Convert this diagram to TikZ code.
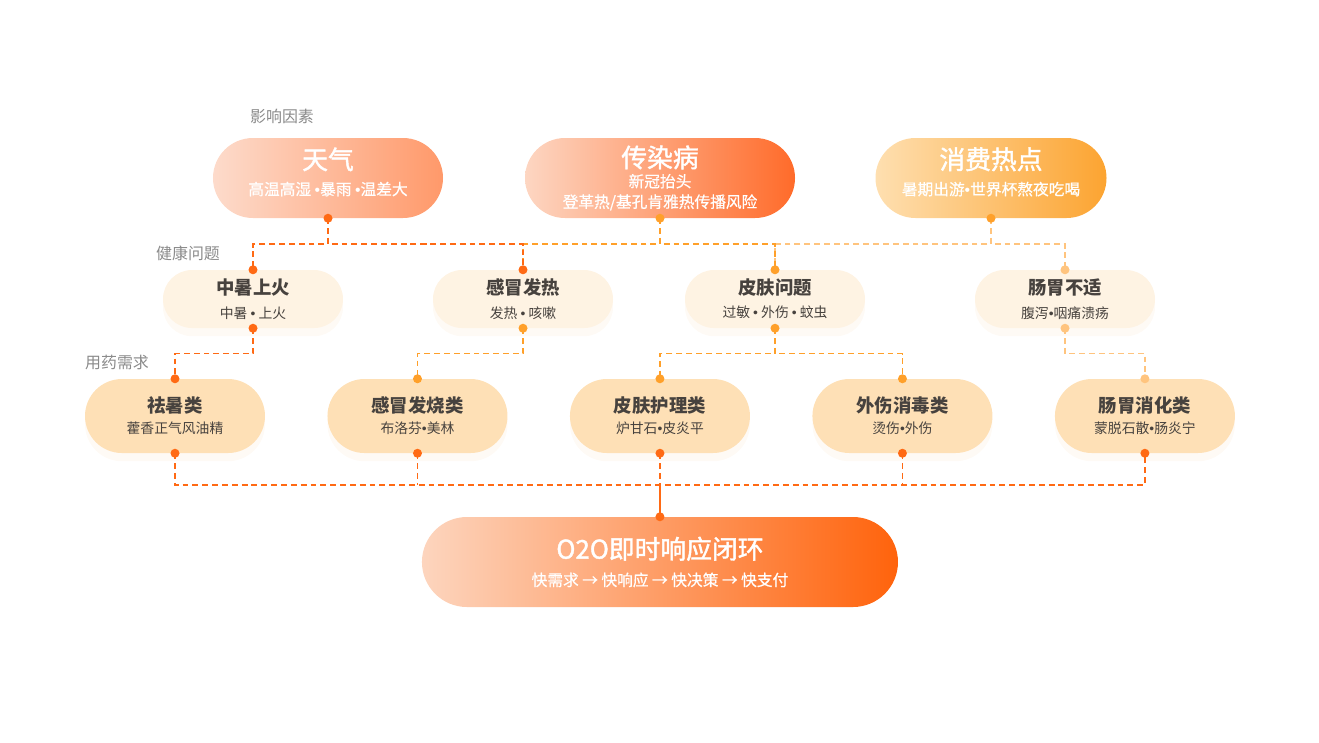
\documentclass[tikz,border=0pt]{standalone}
\usepackage{fontspec}
\newfontfamily\cjk{Noto Sans CJK SC}
\newfontfamily\cjkm{Noto Sans CJK SC}[FakeBold=0.6]
\newfontfamily\cjkt{Noto Sans CJK SC}[FakeBold=1.6]
\newfontfamily\latinf{Liberation Sans}
\usetikzlibrary{positioning,calc,shapes.misc,shadows}

\definecolor{hotred}{HTML}{FF6A14}
\definecolor{midorange}{HTML}{FFA02A}
\definecolor{paleamber}{HTML}{FFC47E}
\definecolor{creamfill}{HTML}{FEF3E3}
\definecolor{peachfill}{HTML}{FEE0B6}
\definecolor{glowfill}{HTML}{FEFAF5}
\definecolor{darktext}{HTML}{47423E}
\definecolor{graytext}{HTML}{8A8A8A}
\definecolor{weatherL}{HTML}{FDDBCB}
\definecolor{weatherR}{HTML}{FF996A}
\definecolor{plagueL}{HTML}{FDD6C2}
\definecolor{plagueR}{HTML}{FF6B2A}
\definecolor{spendL}{HTML}{FEDFB0}
\definecolor{spendR}{HTML}{FCA431}
\definecolor{loopL}{HTML}{FDD5BE}
\definecolor{loopR}{HTML}{FF630C}

\newcommand\bigttl{\cjkt\fontsize{22}{24}\selectfont}
\newcommand\bigsub{\cjkm\fontsize{13.4}{17}\selectfont}
\newcommand\midttl{\cjk\fontsize{15.7}{18}\selectfont\bfseries}
\newcommand\midsub{\cjk\fontsize{11.8}{14}\selectfont}
\newcommand\sep{{\latinf •}}

\tikzset{
pill/.style={rounded rectangle,inner sep=0pt,align=center,font=\cjk},
factor/.style={pill,minimum height=2.4cm,text=white},
problem/.style={pill,minimum width=5.4cm,minimum height=1.74cm,fill=creamfill,
text=darktext,drop shadow={fill=glowfill,opacity=1,shadow xshift=0pt,shadow yshift=-7pt}},
drug/.style={pill,minimum width=5.4cm,minimum height=2.22cm,fill=peachfill,
text=darktext,drop shadow={fill=glowfill,opacity=1,shadow xshift=0pt,shadow yshift=-7pt}},
tier/.style={text=graytext,font=\cjk\fontsize{13.6}{16}\selectfont},
link/.style={dash pattern=on 5pt off 3.4pt,line width=1.3pt},
elbow/.style={link,to path={(\tikztostart) |- ($(\tikztostart)!.5!(\tikztotarget)$) -| (\tikztotarget)}}
}

\begin{document}
\begin{tikzpicture}[x=0.03cm,y=-0.03cm]
\useasboundingbox (0,0) rectangle (1319,742);

% factors
\node[tier] (lblA) at (282,116) {影响因素};
\node[factor,text depth=11.5pt,minimum width=6.9cm,left color=weatherL,right color=weatherR] (tq) at (328,178)
{{\bigttl 天气}\\[8pt]{\bigsub 高温高湿 \sep 暴雨 \sep 温差大}};
\node[factor,minimum width=8.1cm,left color=plagueL,right color=plagueR] (cr) at (660,178)
{{\bigttl 传染病}\\[3pt]{\bigsub 新冠抬头}\\[4pt]{\bigsub 登革热/基孔肯雅热传播风险}};
\node[factor,text depth=11.5pt,minimum width=6.93cm,left color=spendL,right color=spendR] (xf) at (991,178)
{{\bigttl 消费热点}\\[8pt]{\bigsub 暑期出游\sep 世界杯熬夜吃喝}};

% health problems
\node[tier] (lblB) at (188,253) {健康问题};
\node[problem] (zs) at (253,299) {{\midttl 中暑上火}\\[8pt]{\midsub 中暑 \sep\ 上火}};
\node[problem] (gm) at (523,299) {{\midttl 感冒发热}\\[8pt]{\midsub 发热 \sep\ 咳嗽}};
\node[problem] (pf) at (775,299) {{\midttl 皮肤问题}\\[8pt]{\midsub 过敏 \sep\ 外伤 \sep\ 蚊虫}};
\node[problem] (cw) at (1065,299) {{\midttl 肠胃不适}\\[8pt]{\midsub 腹泻\sep 咽痛溃疡}};

% drug demand
\node[tier] (lblC) at (117,362) {用药需求};
\node[drug] (qs) at (175,416) {{\midttl 祛暑类}\\[6pt]{\midsub 藿香正气风油精}};
\node[drug,right=1.86cm of qs] (gs) {{\midttl 感冒发烧类}\\[6pt]{\midsub 布洛芬\sep 美林}};
\node[drug,right=1.86cm of gs] (ph) {{\midttl 皮肤护理类}\\[6pt]{\midsub 炉甘石\sep 皮炎平}};
\node[drug,right=1.86cm of ph] (ws) {{\midttl 外伤消毒类}\\[6pt]{\midsub 烫伤\sep 外伤}};
\node[drug,right=1.86cm of ws] (cx) {{\midttl 肠胃消化类}\\[6pt]{\midsub 蒙脱石散\sep 肠炎宁}};

% O2O loop
\node[factor,minimum width=14.28cm,minimum height=2.7cm,left color=loopL,right color=loopR] (o2o) at ($(ph)+(0,146)$)
{{\bigttl O2O即时响应闭环}\\[9pt]{\bigsub 快需求 → 快响应 → 快决策 → 快支付}};

% connectors
\path (xf.south) edge[elbow,paleamber] (pf.north) edge[elbow,paleamber] (cw.north);
\path (cr.south) edge[elbow,midorange] (gm.north) edge[elbow,midorange] (pf.north);
\path (tq.south) edge[elbow,hotred] (zs.north) edge[elbow,hotred] (gm.north);

\path (zs.south) edge[elbow,hotred] (qs.north);
\path (gm.south) edge[elbow,midorange] (gs.north);
\path (pf.south) edge[elbow,midorange] (ph.north) edge[elbow,midorange] (ws.north);
\path (cw.south) edge[elbow,paleamber] (cx.north);

\coordinate (hub) at ($(ph.south)!.5!(o2o.north)$);
\draw[link,hotred] (qs.south) |- (hub) -| (cx.south);
\foreach \n in {gs,ph,ws}
  \draw[link,hotred] (\n.south) -- (\n.south |- hub);
\draw[hotred,line width=1.3pt] (hub) -- (o2o.north);

% joints
\foreach \p/\c in {tq.south/hotred,cr.south/midorange,xf.south/midorange,
  zs.north/hotred,gm.north/hotred,pf.north/midorange,cw.north/paleamber,
  zs.south/hotred,gm.south/midorange,pf.south/midorange,cw.south/paleamber,
  qs.north/hotred,gs.north/midorange,ph.north/midorange,ws.north/midorange,cx.north/paleamber,
  qs.south/hotred,gs.south/hotred,ph.south/hotred,ws.south/hotred,cx.south/hotred,o2o.north/hotred}
  \fill[\c] (\p) circle (4.5);

\end{tikzpicture}
\end{document}
